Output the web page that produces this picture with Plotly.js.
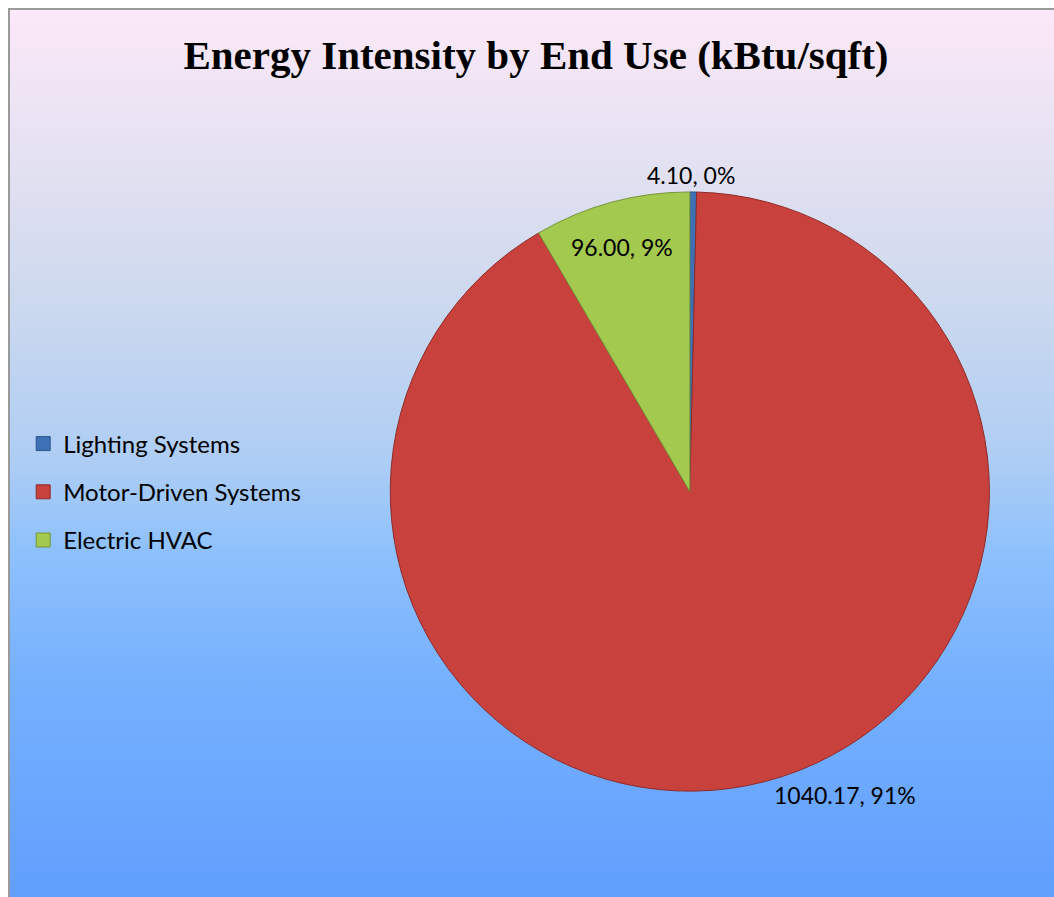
<!DOCTYPE html>
<html>
<head>
<meta charset="utf-8">
<script src="https://cdn.plot.ly/plotly-3.0.1.min.js"></script>
<style>
  html, body { margin: 0; padding: 0; background: #ffffff; overflow: hidden; }
  #frame {
    position: absolute; left: 8px; top: 8px; width: 1100px; height: 900px;
    border-left: 2px solid #9a9a9a; border-top: 2px solid #9a9a9a;
    background: linear-gradient(to bottom, #fce8f8 0%, #e6e2f2 15%, #cdd9ee 32%, #aecdf4 50%, #8ec1fc 60%, #75b0fe 75%, #609efe 100%);
  }
  #chart { position: absolute; left: 0; top: 0; width: 1054px; height: 897px; }
</style>
</head>
<body>
<div id="frame"></div>
<div id="chart"></div>
<script>
// Data
const categories = ['Lighting Systems', 'Motor-Driven Systems', 'Electric HVAC'];
const values = [4.10, 1040.17, 96.00];
const percentLabels = ['0%', '91%', '9%'];
const sliceColors = ['#3d70b4', '#c8413d', '#a3c94e'];
const sliceEdges = ['#2a5590', '#8e2c29', '#76963a'];

const labelFont = { family: 'Lato, Calibri, sans-serif', size: 23, color: '#000000' };

const pie = {
  type: 'pie',
  labels: categories,
  values: values,
  sort: false,
  direction: 'clockwise',
  rotation: 0,
  marker: { colors: sliceColors, line: { color: sliceEdges, width: 1 } },
  textinfo: 'none',
  hoverinfo: 'label+value+percent',
  showlegend: false,
  domain: { x: [0.368, 0.941], y: [0.118, 0.786] }
};

// Legend entries (legend-only traces, one per category)
const legendTraces = categories.map((c, i) => ({
  type: 'scatter',
  mode: 'markers',
  x: [null], y: [null],
  name: c,
  legendgroup: 'g' + i,
  marker: { symbol: 'square', size: 14, color: sliceColors[i], line: { color: sliceEdges[i], width: 1 } },
  hoverinfo: 'skip'
}));

// Data labels: text built from the data arrays
const labelPos = [
  { x: 0.6555, y: 0.805 },   // Lighting Systems (outside, top)
  { x: 0.8017, y: 0.1137 },  // Motor-Driven Systems (outside, bottom right)
  { x: 0.5905, y: 0.7245 }   // Electric HVAC (inside)
];
const annotations = categories.map((c, i) => ({
  text: values[i].toFixed(2) + ', ' + percentLabels[i],
  xref: 'paper', yref: 'paper', x: labelPos[i].x, y: labelPos[i].y,
  xanchor: 'center', yanchor: 'middle', showarrow: false,
  font: labelFont
}));

const layout = {
  width: 1054, height: 897,
  margin: { l: 0, r: 0, t: 0, b: 0 },
  paper_bgcolor: 'rgba(0,0,0,0)',
  plot_bgcolor: 'rgba(0,0,0,0)',
  title: {
    text: 'Energy Intensity by End Use (kBtu/sqft)',
    font: { family: '"Liberation Serif", "DejaVu Serif", serif', size: 41, color: '#000000', weight: 'bold' },
    x: 0.5085, xanchor: 'center', y: 0.9387, yanchor: 'middle'
  },
  xaxis: { visible: false, domain: [0, 0.01] },
  yaxis: { visible: false, domain: [0, 0.01] },
  showlegend: true,
  legend: {
    x: 0.022, xanchor: 'left', y: 0.4515, yanchor: 'middle',
    bgcolor: 'rgba(0,0,0,0)',
    font: { family: 'Lato, Calibri, sans-serif', size: 24, color: '#000000' },
    tracegroupgap: 14,
    itemclick: false, itemdoubleclick: false
  },
  annotations: annotations
};

Plotly.newPlot('chart', [pie].concat(legendTraces), layout, { displayModeBar: false, staticPlot: true });
</script>
</body>
</html>
